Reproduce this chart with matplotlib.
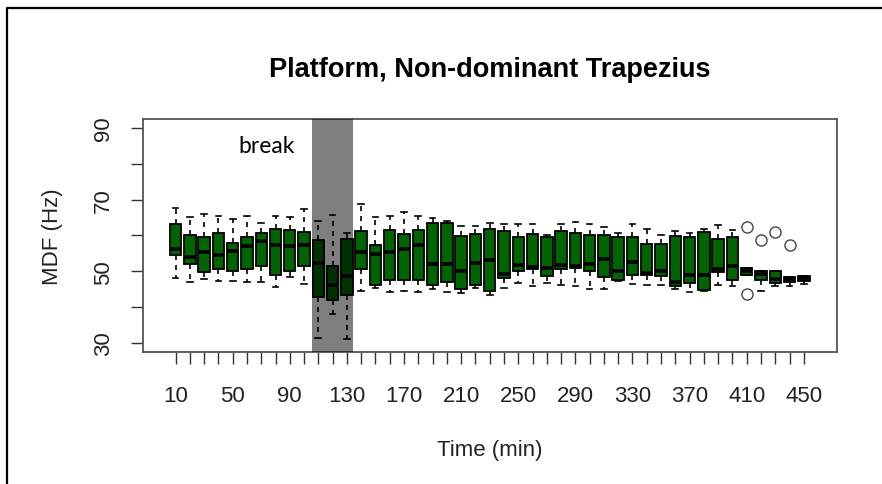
import matplotlib.pyplot as plt
from matplotlib.lines import Line2D

# Box statistics (MDF in Hz), one entry per 10-min slot
times = list(range(10, 460, 10))
whishi = [67.7, 65.1, 66.1, 65.4, 64.7, 65.4, 63.5, 65.4, 65.1, 67.3,
          63.9, 65.8, 60.7, 68.9, 65.1, 65.3, 66.5, 65.4, 65.0, 63.9,
          62.6, 62.6, 63.5, 63.1, 63.1, 63.1, 60.0, 63.1, 63.7, 63.3,
          62.3, 60.7, 63.1, 61.9, 60.0, 61.2, 60.7, 61.9, 62.8, 61.4,
          50.9, 50.2, 50.0, 48.3, 48.8]
q3 = [63.1, 60.0, 59.5, 60.6, 57.9, 59.6, 60.6, 61.9, 61.4, 60.9,
      58.8, 51.6, 59.1, 61.3, 57.4, 61.4, 60.3, 61.4, 63.4, 63.5,
      59.8, 60.3, 61.9, 61.2, 59.6, 60.3, 59.6, 61.3, 60.7, 60.2,
      60.2, 59.5, 59.6, 57.5, 57.5, 59.8, 59.5, 61.1, 59.1, 59.5,
      50.9, 50.0, 50.0, 48.3, 48.8]
med = [56.3, 53.9, 55.3, 54.6, 55.8, 57.0, 58.5, 57.2, 57.0, 57.2,
       52.2, 46.3, 48.6, 55.3, 54.9, 55.5, 56.1, 57.2, 52.1, 52.1,
       50.0, 52.3, 53.2, 49.3, 51.8, 51.3, 50.8, 51.8, 51.6, 52.0,
       53.3, 50.0, 52.5, 49.5, 50.0, 47.1, 49.1, 49.1, 50.5, 51.4,
       50.2, 49.3, 47.9, 47.9, 48.1]
q1 = [54.6, 52.1, 49.7, 50.7, 50.1, 50.5, 51.4, 49.1, 50.1, 51.4,
      42.9, 42.0, 43.4, 50.5, 46.3, 47.7, 47.7, 47.7, 46.2, 46.9,
      45.1, 46.2, 44.6, 48.1, 50.0, 50.5, 48.6, 50.5, 50.8, 50.0,
      48.5, 47.7, 49.1, 49.1, 48.8, 46.0, 46.7, 44.8, 49.7, 47.7,
      49.1, 47.7, 46.7, 47.1, 47.4]
whislo = [48.1, 47.1, 47.9, 47.4, 47.3, 47.1, 47.1, 45.5, 48.3, 46.5,
          31.5, 38.0, 31.2, 44.6, 45.4, 44.3, 44.6, 44.1, 45.1, 44.3,
          43.9, 45.3, 43.5, 45.2, 46.7, 45.8, 46.7, 46.2, 45.8, 45.1,
          45.1, 47.4, 46.5, 46.2, 46.2, 45.1, 44.3, 44.6, 46.2, 46.0,
          49.0, 44.6, 46.0, 46.0, 46.5]
outliers = {41: [62.3, 43.7], 42: [58.6], 43: [61.1], 44: [57.2]}

break_start, break_end = 10.55, 13.43   # shaded break, in box positions

plt.rcParams['font.family'] = ['Liberation Sans', 'DejaVu Sans']

fig = plt.figure(figsize=(8.82, 4.85), dpi=100)
ax = fig.add_axes([0.1618, 0.2716, 0.7868, 0.481])

stats = []
for i, t in enumerate(times):
    stats.append({'med': med[i], 'q1': q1[i], 'q3': q3[i],
                  'whislo': whislo[i], 'whishi': whishi[i],
                  'fliers': outliers.get(i + 1, []), 'label': str(t)})

ax.bxp(stats, positions=range(1, len(times) + 1), widths=0.8,
       patch_artist=True, showfliers=True,
       boxprops=dict(facecolor='#006400', edgecolor='black', linewidth=1.3),
       medianprops=dict(color='black', linewidth=2.6, solid_capstyle='butt'),
       whiskerprops=dict(color='black', linestyle=(0, (3, 3)), linewidth=1.2),
       capprops=dict(color='black', linewidth=1.2),
       capwidths=0.4,
       flierprops=dict(marker='o', markerfacecolor='white', markeredgecolor='#444444',
                       markersize=8, markeredgewidth=1.0))

ax.axvspan(break_start, break_end, color='black', alpha=0.5, lw=0, zorder=5)
ax.text(5.42, 85.0, 'break', fontsize=16.5, family=['Lato', 'DejaVu Sans'],
        ha='left', va='center', color='black')

ax.set_xlim(-1.3, 47.3)
ax.set_ylim(27.4, 92.5)
ax.set_xticks(range(1, len(times) + 1))
ax.set_xticklabels([str(t) if (i % 4 == 0) else '' for i, t in enumerate(times)])
ax.set_yticks(range(30, 91, 10))
ax.set_yticklabels(['30', '', '50', '', '70', '', '90'])
for lab in ax.get_yticklabels():
    lab.set_rotation(90)
    lab.set_va('center')

ax.tick_params(axis='both', length=8.5, width=1.0, color='#333333',
               labelsize=16, labelcolor='#222222')
ax.tick_params(axis='x', pad=15)
ax.tick_params(axis='y', pad=12)
for sp in ax.spines.values():
    sp.set_color('#555555')
    sp.set_linewidth(1.3)

ax.set_title('Platform, Non-dominant Trapezius', fontsize=19.5, fontweight='bold',
             pad=31, color='black')
ax.set_xlabel('Time (min)', fontsize=16, labelpad=24, color='#222222')
ax.set_ylabel('MDF (Hz)', fontsize=16, labelpad=22, color='#222222')

# outer frame of the pasted picture (left and top edges visible)
fig.add_artist(Line2D([7 / 882, 7 / 882, 1.0], [0.0, 1 - 9 / 485, 1 - 9 / 485],
                      transform=fig.transFigure, color='black', linewidth=1.6))

fig.savefig('out.png', dpi=100)
